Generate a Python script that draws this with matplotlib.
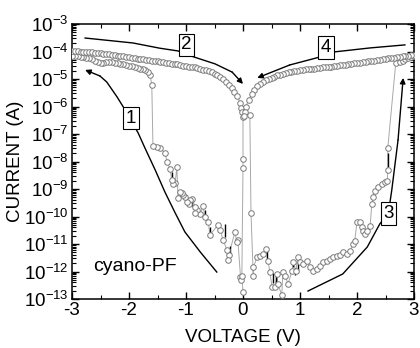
import numpy as np
from matplotlib import pyplot as plt
from matplotlib.ticker import FixedLocator, FixedFormatter, LogLocator, MultipleLocator

plt.rcParams['font.family'] = ['Liberation Sans', 'DejaVu Sans']
plt.rcParams['mathtext.fontset'] = 'custom'
plt.rcParams['mathtext.rm'] = 'Liberation Sans'
plt.rcParams['mathtext.it'] = 'Liberation Sans:italic'
plt.rcParams['axes.unicode_minus'] = False

# negative polarity: sweep 1 (0 -> -3, low state, switch at -1.6 V), then sweep 2 (-3 -> 0)
neg_v = [-0.05, -0.04, -0.09, -0.11, -0.14, -0.25, -0.26, -0.28, -0.35, -0.40, -0.44,
         -0.58, -0.61, -0.67, -0.70, -0.75, -0.81, -0.84, -0.84, -0.89, -0.93, -0.95,
         -0.98, -1.02, -1.05, -1.07, -1.11, -1.14, -1.16, -1.19, -1.23, -1.25, -1.28,
         -1.33, -1.37, -1.46, -1.51, -1.58,
         -1.60, -1.63, -1.67, -1.72, -1.75, -1.80, -1.85, -1.90, -1.95, -2.00, -2.05,
         -2.10, -2.15, -2.20, -2.25, -2.30, -2.35, -2.40, -2.45, -2.50, -2.55, -2.60,
         -2.65, -2.70, -2.75, -2.80, -2.85, -2.90, -2.95, -3.00,
         -3.00, -2.95, -2.90, -2.85, -2.80, -2.75, -2.70, -2.65, -2.60, -2.55, -2.50,
         -2.45, -2.40, -2.35, -2.30, -2.25, -2.20, -2.15, -2.10, -2.05, -2.00, -1.95,
         -1.90, -1.85, -1.80, -1.75, -1.70, -1.65, -1.60, -1.55, -1.50, -1.45, -1.40,
         -1.35, -1.30, -1.25, -1.20, -1.15, -1.10, -1.05, -1.00, -0.95, -0.90, -0.85,
         -0.80, -0.75, -0.70, -0.65, -0.60, -0.55, -0.50, -0.45, -0.40, -0.35, -0.30,
         -0.25, -0.20, -0.15, -0.10, -0.05, -0.03, -0.01, 0.00, 0.00, 0.00, -0.02, 0.00]
neg_log_i = [-12.20, -12.31, -10.85, -10.93, -10.56, -11.40, -11.58, -11.22, -10.85, -10.49, -10.31,
             -10.67, -10.20, -10.02, -9.62, -9.91, -9.76, -9.87, -9.65, -9.36, -9.40, -9.55,
             -9.47, -9.29, -9.22, -9.15, -9.11, -9.33, -8.20, -8.78, -8.82, -8.67, -8.27,
             -8.02, -7.69, -7.51, -7.47, -7.44,
             -5.22, -4.85, -4.75, -4.66, -4.64, -4.62, -4.60, -4.57, -4.54, -4.51, -4.49,
             -4.47, -4.45, -4.42, -4.40, -4.38, -4.37, -4.38, -4.40, -4.40, -4.38, -4.33,
             -4.28, -4.25, -4.23, -4.21, -4.19, -4.18, -4.17, -4.16,
             -3.98, -3.99, -3.99, -4.00, -4.01, -4.01, -4.02, -4.03, -4.04, -4.05, -4.06,
             -4.08, -4.09, -4.10, -4.12, -4.13, -4.15, -4.16, -4.17, -4.19, -4.20, -4.22,
             -4.24, -4.26, -4.27, -4.29, -4.31, -4.32, -4.33, -4.34, -4.35, -4.37, -4.38,
             -4.40, -4.42, -4.44, -4.46, -4.47, -4.49, -4.51, -4.53, -4.55, -4.57, -4.58,
             -4.60, -4.63, -4.66, -4.68, -4.71, -4.75, -4.80, -4.85, -4.92, -5.01, -5.11,
             -5.21, -5.33, -5.46, -5.62, -5.87, -6.05, -6.20, -6.38, -7.91, -8.24, -12.16, -12.75]

# positive polarity: sweep 3 (0 -> 3, low state, switch at 2.6 V), then sweep 4 (3 -> 0)
pos_v = [0.12, 0.14, 0.18, 0.18, 0.25, 0.30, 0.35, 0.40, 0.44, 0.47, 0.51, 0.56, 0.60,
         0.61, 0.68, 0.70, 0.74, 0.79, 0.86, 0.88, 0.93, 0.96, 1.00, 1.05, 1.12, 1.18,
         1.23, 1.30, 1.35, 1.40, 1.47, 1.53, 1.58, 1.65, 1.70, 1.75, 1.82, 1.88, 1.93,
         1.96, 2.00, 2.05, 2.09, 2.11, 2.14, 2.18, 2.23, 2.26, 2.28, 2.32, 2.37, 2.44,
         2.49, 2.53, 2.54, 2.54,
         2.68, 2.75, 2.80, 2.85, 2.90, 2.95, 3.00,
         3.00, 2.95, 2.90, 2.85, 2.80, 2.75, 2.70, 2.65, 2.60, 2.55, 2.50, 2.45, 2.40,
         2.35, 2.30, 2.25, 2.20, 2.15, 2.10, 2.05, 2.00, 1.95, 1.90, 1.85, 1.80, 1.75,
         1.70, 1.65, 1.60, 1.55, 1.50, 1.45, 1.40, 1.35, 1.30, 1.25, 1.20, 1.15, 1.10,
         1.05, 1.00, 0.95, 0.90, 0.85, 0.80, 0.75, 0.70, 0.65, 0.60, 0.55, 0.50, 0.45,
         0.40, 0.35, 0.30, 0.25, 0.20, 0.15, 0.10, 0.05, 0.03, 0.02]
pos_log_i = [-6.30, -9.87, -12.16, -11.84, -11.47, -11.44, -11.36, -11.18, -11.62, -12.02, -12.56, -12.56, -12.09,
             -12.45, -12.85, -12.02, -12.16, -12.45, -11.98, -11.65, -11.98, -11.47, -11.65, -11.73, -11.62, -11.84,
             -11.98, -11.91, -11.80, -11.65, -11.62, -11.55, -11.47, -11.44, -11.40, -11.29, -11.36, -11.25, -11.00,
             -10.89, -10.20, -10.20, -10.38, -10.53, -10.64, -10.53, -10.35, -9.55, -9.29, -9.07, -8.93, -8.82,
             -8.75, -8.71, -8.31, -7.51,
             -4.42, -4.38, -4.33, -4.28, -4.24, -4.20, -4.16,
             -4.12, -4.13, -4.15, -4.16, -4.18, -4.19, -4.21, -4.22, -4.24, -4.25, -4.27, -4.28, -4.30,
             -4.31, -4.33, -4.34, -4.36, -4.37, -4.39, -4.40, -4.42, -4.43, -4.45, -4.46, -4.48, -4.49,
             -4.50, -4.52, -4.53, -4.55, -4.56, -4.57, -4.58, -4.59, -4.61, -4.62, -4.63, -4.64, -4.65,
             -4.67, -4.68, -4.70, -4.72, -4.74, -4.76, -4.78, -4.81, -4.84, -4.87, -4.91, -4.95, -5.00,
             -5.05, -5.11, -5.17, -5.27, -5.40, -5.56, -5.76, -6.02, -6.20, -6.35]

# short black segments between repeated readings
seg_v = [-1.25, -0.89, -0.67, -0.58, -0.32, -0.23, 0.42, 0.53, 0.58, 0.88, 0.91, 0.96, 2.54]
seg_lo = [-8.67, -9.62, -10.02, -10.60, -10.75, -11.36, -11.55, -12.42, -12.42, -11.84, -12.13, -12.02, -8.20]
seg_hi = [-8.38, -9.40, -9.76, -10.38, -10.27, -11.07, -11.25, -12.05, -12.13, -11.58, -11.87, -11.65, -7.69]

# guide arrows: (voltage, log10 current), last point is the arrow tip
guide_1 = [(-0.46, -12.02), (-0.75, -11.29), (-1.02, -10.56), (-1.19, -9.87), (-1.37, -9.11),
           (-1.54, -8.31), (-1.72, -7.51), (-1.84, -6.96), (-2.09, -6.05), (-2.21, -5.65),
           (-2.39, -5.11), (-2.51, -4.89), (-2.77, -4.67)]
guide_2 = [(-2.77, -3.51), (-1.93, -3.69), (-1.46, -3.88), (-1.14, -3.98), (-0.86, -4.20),
           (-0.49, -4.45), (-0.19, -4.75), (0.00, -5.18)]
guide_3 = [(1.14, -12.71), (1.75, -12.09), (2.18, -11.11), (2.40, -10.27), (2.55, -9.89),
           (2.61, -9.04), (2.72, -7.22), (2.81, -4.96)]
guide_4 = [(2.84, -3.76), (2.23, -3.87), (1.58, -4.02), (1.35, -4.20), (0.82, -4.49), (0.25, -4.96)]
box_labels = ['1', '2', '3', '4']
box_pos = [(-1.96, -6.42), (-0.99, -3.76), (2.55, -9.89), (1.46, -3.85)]

decades = [-13, -12, -11, -10, -9, -8, -7, -6, -5, -4, -3]
y_labels = [r'$\mathregular{10^{%d}}$' % d for d in decades]
x_ticks = [-3, -2, -1, 0, 1, 2, 3]

fig = plt.figure(figsize=(4.2, 3.48), dpi=100)
ax = fig.add_axes([72 / 420, 49 / 348, 342 / 420, 275 / 348])

for v, li in [(neg_v, neg_log_i), (pos_v, pos_log_i)]:
    ax.plot(v, 10.0 ** np.array(li), '-', color='#a8a8a8', lw=0.7, zorder=2)
    ax.plot(v, 10.0 ** np.array(li), 'o', ms=4.0, mfc='white', mec='#7a7a7a', mew=0.7, zorder=4)

ax.vlines(seg_v, 10.0 ** np.array(seg_lo), 10.0 ** np.array(seg_hi), color='black', lw=1.0, zorder=3)

for guide in [guide_1, guide_2, guide_3, guide_4]:
    gv = [p[0] for p in guide]
    gi = [10.0 ** p[1] for p in guide]
    ax.plot(gv[:-1], gi[:-1], '-', color='black', lw=1.0, zorder=5)
    ax.annotate('', xy=(gv[-1], gi[-1]), xytext=(gv[-2], gi[-2]),
                arrowprops=dict(arrowstyle='-|>', color='black', lw=1.0, mutation_scale=8,
                                shrinkA=0, shrinkB=0), zorder=5)

for lab, (bv, bl) in zip(box_labels, box_pos):
    ax.text(bv, 10.0 ** bl, lab, ha='center', va='center', fontsize=13.5, zorder=6,
            bbox=dict(boxstyle='square,pad=0.14', fc='white', ec='black', lw=0.8))

ax.text(-2.63, 10.0 ** -11.98, 'cyano-PF', fontsize=14, ha='left', va='baseline')

ax.set_yscale('log')
ax.set_xlim(-3, 3)
ax.set_ylim(1e-13, 1e-3)
ax.yaxis.set_major_locator(FixedLocator([10.0 ** d for d in decades]))
ax.yaxis.set_major_formatter(FixedFormatter(y_labels))
ax.yaxis.set_minor_locator(LogLocator(base=10, subs=np.arange(2, 10), numticks=20))
ax.xaxis.set_major_locator(FixedLocator(x_ticks))
ax.xaxis.set_minor_locator(MultipleLocator(0.5))

ax.tick_params(which='both', direction='in', top=True, right=True, labelsize=13.5)
ax.tick_params(which='major', length=5, width=1.0)
ax.tick_params(which='minor', length=3, width=0.8)
ax.tick_params(axis='x', pad=2)
ax.tick_params(axis='y', pad=2.5)
for s in ax.spines.values():
    s.set_linewidth(1.1)

ax.set_xlabel('VOLTAGE (V)', fontsize=13.5, labelpad=7)
ax.set_ylabel('CURRENT (A)', fontsize=13.5, labelpad=0)

fig.savefig('out.png', dpi=100)
